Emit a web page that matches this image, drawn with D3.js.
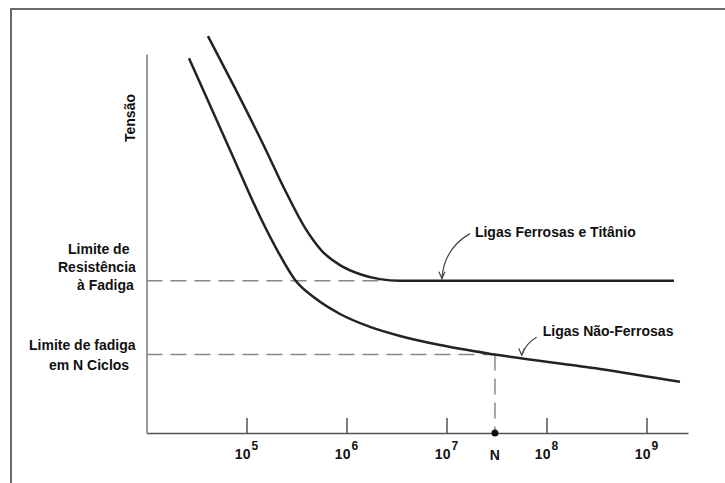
<!DOCTYPE html>
<html lang="pt-br">
  <head>
    <meta charset="utf-8">
    <title>Curva S-N</title>
    <script src="https://d3js.org/d3.v7.min.js"></script>
    <style>
      body { margin: 0; background: #fff; }
      .rotulo { font: bold 14px "Liberation Sans", Arial, sans-serif; fill: #111; }
      .eixo path, .eixo line { stroke: #555; stroke-width: 1.5; }
    </style>
  </head>
  <body>
    <div id="chart"></div>
    <script type="text/javascript">
      "use strict"
      // curvas (ciclos, tensao em unidades arbitrarias)
      var ciclosFerrosas = [4.12e4, 7.67e4, 1.43e5, 2.48e5, 3.85e5, 5.69e5, 8.61e5, 1.37e6, 2.16e6, 3.43e6, 1.88e9];
      var tensaoFerrosas = [104.7, 91.0, 76.8, 63.6, 54.1, 48.0, 44.3, 41.9, 40.6, 40.2, 40.2];
      var ciclosNaoFerrosas = [2.66e4, 6.84e4, 1.37e5, 2.07e5, 3.06e5, 4.84e5, 8.61e5, 1.72e6, 3.43e6, 8.61e6, 3.05e7, 3.43e8, 2.16e9];
      var tensaoNaoFerrosas = [98.9, 74.7, 57.0, 47.8, 40.4, 35.6, 31.4, 28.0, 25.6, 23.2, 20.7, 16.9, 13.5];
      var expoentes = [5, 6, 7, 8, 9];
      var limiteResistencia = 40.2, fimTransicao = 2.5e6;
      var ciclosN = 3.05e7, limiteN = 20.7;

      var largura = 725, altura = 483;
      var svg = d3.select('#chart').append('svg')
          .attr('width', largura)
          .attr('height', altura);

      // moldura (so topo e esquerda aparecem na figura)
      svg.append('path')
          .attr('d', 'M11,483 V9 H725')
          .attr('fill', 'none')
          .attr('stroke', '#6a6a6a')
          .attr('stroke-width', 2);

      /*
       * escalas
       */
      var x = d3.scaleLog().domain([1e4, 2.6e9]).range([146.5, 688]);
      var y = d3.scaleLinear().domain([0, 100]).range([433, 54]);

      /*
       * eixos
       */
      svg.append('g')
          .attr('class', 'eixo')
          .attr('transform', 'translate(0,' + y(0) + ')')
          .call(d3.axisTop(x).tickValues(expoentes.map(e => Math.pow(10, e))).tickSize(15).tickSizeOuter(0).tickFormat(''));
      svg.append('g')
          .attr('class', 'eixo')
          .attr('transform', 'translate(' + x(1e4) + ',0)')
          .call(d3.axisLeft(y).tickValues([]).tickSizeOuter(0))
        .select('path')
          .style('stroke', '#777');

      var rotTicks = svg.selectAll('.rot-tick')
          .data(expoentes)
        .enter().append('text')
          .attr('class', 'rotulo rot-tick')
          .attr('x', e => x(Math.pow(10, e)))
          .attr('y', y(0) + 26)
          .attr('text-anchor', 'middle');
      rotTicks.append('tspan').text('10');
      rotTicks.append('tspan')
          .attr('dx', 1)
          .attr('dy', -9)
          .style('font-size', '12px')
          .text(e => e);

      svg.append('text')
          .attr('class', 'rotulo')
          .attr('x', x(ciclosN))
          .attr('y', y(0) + 27)
          .attr('text-anchor', 'middle')
          .text('N');

      svg.append('text')
          .attr('class', 'rotulo')
          .attr('transform', 'translate(135,118) rotate(-90)')
          .attr('text-anchor', 'middle')
          .text('Tensão');

      // rotulos da esquerda
      var rotEsq = [
        {t: 'Limite de', x: 68, y: 254},
        {t: 'Resistência', x: 58, y: 272},
        {t: 'à Fadiga', x: 77, y: 290},
        {t: 'Limite de fadiga', x: 29, y: 350},
        {t: 'em N Ciclos', x: 49, y: 370}
      ];
      svg.selectAll('.rot-esq')
          .data(rotEsq)
        .enter().append('text')
          .attr('class', 'rotulo rot-esq')
          .attr('x', d => d.x)
          .attr('y', d => d.y)
          .text(d => d.t);

      /*
       * linhas tracejadas de referencia
       */
      var tracejado = [
        [[1e4, limiteResistencia], [fimTransicao, limiteResistencia]],
        [[1e4, limiteN], [ciclosN, limiteN]],
        [[ciclosN, limiteN], [ciclosN, 0]]
      ];
      svg.selectAll('.tracejado')
          .data(tracejado)
        .enter().append('line')
          .attr('class', 'tracejado')
          .attr('x1', d => x(d[0][0]))
          .attr('y1', d => y(d[0][1]))
          .attr('x2', d => x(d[1][0]))
          .attr('y2', d => y(d[1][1]))
          .attr('stroke', '#888')
          .attr('stroke-width', 1.5)
          .attr('stroke-dasharray', '16,8');

      /*
       * as curvas
       */
      var linha = d3.line()
          .x(d => x(d[0]))
          .y(d => y(d[1]))
          .curve(d3.curveMonotoneX);
      var curvas = [
        d3.zip(ciclosFerrosas, tensaoFerrosas),
        d3.zip(ciclosNaoFerrosas, tensaoNaoFerrosas)
      ];
      svg.selectAll('.curva')
          .data(curvas)
        .enter().append('path')
          .attr('class', 'curva')
          .attr('d', linha)
          .attr('fill', 'none')
          .attr('stroke', '#222')
          .attr('stroke-width', 2.5);

      svg.append('circle')
          .attr('cx', x(ciclosN))
          .attr('cy', y(0))
          .attr('r', 3.5)
          .attr('fill', '#111');

      /*
       * anotacoes com setas curvas
       */
      var anotacoes = [
        {texto: 'Ligas Ferrosas e Titânio', n: 9e6, s: limiteResistencia, dx: 33, dy: -42,
         seta: 'q 2,-30 28,-45'},
        {texto: 'Ligas Não-Ferrosas', n: 5.65e7, s: 20.0, dx: 21, dy: -19,
         seta: 'q 4,-12 15,-18'}
      ];
      var anot = svg.selectAll('.anot')
          .data(anotacoes)
        .enter().append('g')
          .attr('class', 'anot')
          .attr('transform', d => 'translate(' + x(d.n) + ',' + (y(d.s) - 2) + ')');
      anot.append('path')
          .attr('d', d => 'M0,0 ' + d.seta)
          .attr('fill', 'none')
          .attr('stroke', '#444')
          .attr('stroke-width', 1.2);
      anot.append('path')
          .attr('d', 'M-3,-7 L0,0 L3,-7')
          .attr('fill', 'none')
          .attr('stroke', '#444')
          .attr('stroke-width', 1.2);
      anot.append('text')
          .attr('class', 'rotulo')
          .attr('x', d => d.dx)
          .attr('y', d => d.dy)
          .text(d => d.texto);
    </script>
  </body>
</html>
